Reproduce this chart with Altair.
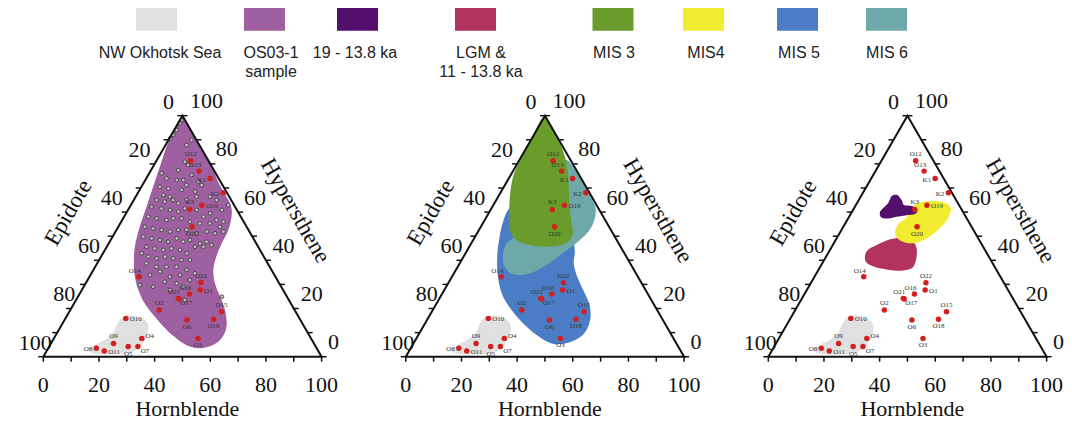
import math
import altair as alt
import pandas as pd

# ---------------- data ----------------
LEGEND_NAMES = ["NW Okhotsk Sea", "OS03-1 sample", "19 - 13.8 ka", "LGM & 11 - 13.8 ka",
                "MIS 3", "MIS4", "MIS 5", "MIS 6"]
LEGEND_LINES = [["NW Okhotsk Sea"], ["OS03-1", "sample"], ["19 - 13.8 ka"], ["LGM &", "11 - 13.8 ka"],
                ["MIS 3"], ["MIS4"], ["MIS 5"], ["MIS 6"]]
LEGEND_COLORS = ["#e0e0e0", "#9e60a0", "#540f6c", "#b2335f",
                 "#699c2a", "#f2ec30", "#4a7dc6", "#6ea8a8"]

SAMPLE_IDS = ["O12", "O13", "K1", "K2", "K3", "O19", "O20", "O14", "O22", "O1", "O16", "O21", "O17",
              "O2", "O15", "O18", "O6", "O10", "O4", "O9", "O3", "O8", "O11", "O5", "O7"]
SAMPLE_HORNBLENDE = [12.3, 17.5, 23.0, 30.7, 22.1, 25.6, 26.5, 17.7, 41.3, 42.5, 39.5, 36.4, 36.9,
                     32.0, 54.7, 53.4, 44.0, 21.7, 31.6, 22.5, 51.8, 17.3, 20.7, 28.4, 31.9]
SAMPLE_HYPERSTHENE = [81.3, 77.0, 73.9, 68.0, 61.1, 62.8, 53.9, 33.2, 30.7, 27.7, 26.0, 24.2, 23.9,
                      19.4, 18.7, 15.5, 15.2, 15.9, 7.6, 5.5, 7.6, 3.5, 2.4, 4.2, 4.2]
SAMPLE_LABEL_SIDE = ["N", "NW", "W", "W", "N", "E", "S", "NW", "N", "E", "NW", "NW", "SE",
                     "N", "N", "S", "S", "E", "NE", "N", "S", "W", "E", "S", "SE"]

# OS03-1 core samples (grey dots, left panel)
OS03_HORNBLENDE = [0.6, 0.7, 0.9, 0.7, 0.3, 8.3, 7.6, 10.4, 12.3, 9.8, 15.6, 19.4, 21.3, 4.5, 7.3,
                   11.3, 13.7, 15.9, 6.6, 10.0, 15.1, 20.3, 9.6, 12.3, 8.2, 11.5, 14.2, 16.7, 19.0,
                   21.9, 26.7, 29.8, 33.7, 35.0, 7.8, 11.7, 15.1, 18.4, 20.1, 24.7, 28.5, 30.2, 33.9,
                   36.7, 8.7, 12.0, 15.9, 18.0, 21.0, 24.7, 28.6, 32.2, 36.5, 9.5, 12.9, 16.2, 19.6,
                   22.2, 25.2, 29.5, 32.8, 36.1, 38.8, 11.0, 14.4, 17.7, 21.0, 23.4, 26.4, 28.5, 32.8,
                   34.8, 37.3, 14.3, 17.6, 21.0, 23.6, 27.0, 30.1, 31.7, 34.7, 13.9, 17.0, 20.3, 23.0,
                   26.3, 29.6, 32.6, 17.7, 22.0, 25.6, 29.2, 33.5, 37.2, 18.1, 21.4, 24.3, 28.9, 32.2,
                   36.8, 28.1, 32.7, 35.8, 25.0, 31.7, 39.1, 19.8, 51.7]
OS03_HYPERSTHENE = [98.2, 96.8, 94.0, 92.0, 90.6, 89.9, 87.8, 80.9, 79.5, 77.4, 75.4, 72.6, 71.2, 76.1,
                    74.0, 73.3, 73.3, 71.2, 70.5, 69.8, 69.2, 68.5, 67.1, 66.4, 65.0, 64.3, 65.0, 63.6,
                    65.0, 66.4, 66.4, 65.0, 60.9, 62.9, 62.2, 61.5, 60.9, 60.2, 61.5, 60.9, 58.1, 59.5,
                    56.7, 56.0, 58.1, 57.4, 56.7, 57.4, 57.4, 56.0, 55.3, 55.3, 53.9, 53.9, 53.2, 52.6,
                    51.9, 52.6, 52.6, 51.2, 51.9, 51.2, 51.9, 49.8, 49.1, 48.4, 47.7, 49.1, 47.7, 48.4,
                    47.0, 47.7, 46.3, 45.6, 44.9, 44.3, 44.9, 44.3, 42.9, 45.6, 45.6, 42.9, 41.5, 40.8,
                    41.5, 40.8, 40.1, 40.1, 38.7, 37.3, 37.3, 37.3, 36.0, 34.6, 33.2, 33.9, 35.3, 33.2,
                    33.9, 31.8, 31.1, 30.4, 29.0, 29.0, 27.7, 23.5, 29.7, 24.9]

# field outlines (Hornblende, Hypersthene)
NW_OKHOTSK_H = [20.4, 23.2, 27.3, 30.6, 32.3, 33.1, 32.9, 31.9, 29.8, 24.7, 19.9, 16.2, 15.1, 16.5, 18.9, 20.2, 19.7]
NW_OKHOTSK_HY = [16.6, 17.1, 16.0, 13.8, 10.8, 7.6, 4.8, 2.8, 1.4, 1.0, 1.0, 1.7, 3.3, 5.3, 7.2, 10.0, 13.8]

OS03_FIELD_H = [0.0, 5.0, 20.0, 28.0, 35.3, 38.3, 40.2, 40.6, 41.4, 43.1, 46.5, 51.1, 55.6, 59.0, 60.3,
                59.8, 57.2, 54.0, 49.1, 44.1, 38.8, 31.8, 25.4, 20.3, 16.3, 13.2, 10.1, 7.7, 6.0, 4.2,
                2.5, 0.7, 0.0]
OS03_FIELD_HY = [99.0, 95.0, 80.0, 71.0, 63.6, 58.8, 52.6, 47.0, 41.5, 36.0, 30.4, 24.9, 19.4, 13.8, 9.7,
                 6.2, 4.1, 3.5, 4.8, 7.6, 11.1, 16.6, 22.1, 27.7, 33.2, 38.7, 45.6, 53.9, 62.2, 70.5,
                 78.8, 87.1, 94.0]

MIS5_H = [6.3, 7.1, 9.3, 12.1, 16.5, 21.9, 28.3, 35.3, 42.5, 49.6, 54.4, 58.1, 59.4, 58.1, 54.8, 49.9,
          45.0, 41.0, 38.6, 34.0, 17.7, 8.6]
MIS5_HY = [60.9, 55.3, 48.4, 41.5, 33.2, 25.6, 19.4, 13.8, 9.0, 5.5, 5.5, 7.6, 11.1, 16.6, 22.1, 27.7,
           33.2, 38.7, 44.2, 49.8, 60.9, 62.2]

MIS6_H = [17.2, 22.9, 30.0, 33.9, 37.5, 39.4, 39.7, 38.2, 35.4, 32.2, 29.1, 25.2, 20.3, 16.0, 13.5, 12.7,
          14.0, 16.2, 16.5, 16.2]
MIS6_HY = [81.6, 76.8, 69.8, 65.7, 61.5, 56.7, 52.3, 48.1, 43.6, 39.0, 35.7, 34.0, 34.6, 38.4, 42.9, 47.0,
           49.1, 56.7, 70.5, 79.5]

MIS3_H = [0.0, 8.5, 12.4, 16.7, 21.0, 25.5, 28.5, 31.9, 34.5, 34.7, 32.8, 27.7, 21.4, 15.6, 11.1, 8.1,
          4.2, 1.2, 0.3, 0.0]
MIS3_HY = [99.5, 91.3, 87.1, 81.6, 74.7, 66.4, 60.9, 55.3, 51.2, 48.4, 46.3, 45.6, 46.3, 48.4, 52.6, 58.1,
           66.4, 74.7, 82.0, 90.0]

LGM_H = [15.8, 19.4, 23.8, 27.3, 30.8, 33.0, 33.2, 29.5, 24.4, 19.1, 15.4, 13.7, 13.7]
LGM_HY = [46.3, 48.7, 49.5, 48.4, 45.0, 40.1, 36.7, 35.7, 36.2, 37.4, 39.4, 42.2, 44.5]

MIS4_H = [21.5, 26.4, 31.5, 34.8, 35.8, 35.1, 33.0, 29.7, 25.8, 22.4, 19.8, 19.2, 20.8, 21.1]
MIS4_HY = [63.6, 64.6, 63.9, 61.6, 57.8, 53.7, 49.8, 47.3, 47.3, 48.7, 51.5, 55.1, 57.8, 61.6]

DEGLAC_H = [11.0, 12.8, 15.4, 17.3, 20.3, 23.0, 23.1, 20.4, 17.1, 13.9, 11.3, 10.1, 10.6, 11.2]
DEGLAC_HY = [66.7, 67.1, 65.0, 62.9, 62.5, 61.1, 59.2, 58.7, 58.1, 57.3, 58.1, 60.2, 62.0, 63.9]

TICK_VALUES = [0, 10, 20, 30, 40, 50, 60, 70, 80, 90, 100]
LABEL_VALUES = [0, 20, 40, 60, 80, 100]
AXIS_TITLES = ["Hornblende", "Epidote", "Hypersthene"]

# ---------------- layout ----------------
W, H = 1056, 411
S = 2.783                      # px per ternary unit
X0, Y0 = 35.3, 348.7           # bottom-left corner of first triangle (chart px)
PANEL_DX = 362.5               # px between panels
SQ = math.sqrt(3) / 2
XDOM = [(0 - X0) / S, (W - X0) / S]
YDOM = [(Y0 - H) / S, Y0 / S]
RIGHT_LABEL_DX = [12, 18, 17.5, 17, 16.5, 24]
LEFT_LABEL_DX = [-14, -15, -15, -10, -7, -8]
LEGEND_RECT_X = [156.5, 264.5, 357.5, 475.5, 613, 703.5, 797.5, 886.5]
LEGEND_TEXT_X = [160, 271, 355, 481, 614, 706, 799, 887]
LEGEND_LINE_Y = [53.3, 72.0]
SERIF = "Liberation Serif"
SANS = "Liberation Sans"


def pos(panel, h, hy, dxpx=0.0, dypx=0.0):
    return (panel * PANEL_DX / S + h + hy / 2 + dxpx / S, hy * SQ - dypx / S)


def page(xp, yp):
    xp, yp = xp - 8, yp - 8
    return ((xp - X0) / S, (Y0 - yp) / S)


XS = alt.Scale(domain=XDOM, nice=False, zero=False)
YS = alt.Scale(domain=YDOM, nice=False, zero=False)
X = alt.X("x:Q", scale=XS, axis=None)
Y = alt.Y("y:Q", scale=YS, axis=None)
CSCALE = alt.Scale(domain=LEGEND_NAMES, range=LEGEND_COLORS)

layers = []

# ---- filled fields ----
POLYGONS = [
    ("NW Okhotsk Sea", [0, 1, 2], NW_OKHOTSK_H, NW_OKHOTSK_HY),
    ("OS03-1 sample", [0], OS03_FIELD_H, OS03_FIELD_HY),
    ("MIS 5", [1], MIS5_H, MIS5_HY),
    ("MIS 6", [1], MIS6_H, MIS6_HY),
    ("MIS 3", [1], MIS3_H, MIS3_HY),
    ("LGM & 11 - 13.8 ka", [2], LGM_H, LGM_HY),
    ("MIS4", [2], MIS4_H, MIS4_HY),
    ("19 - 13.8 ka", [2], DEGLAC_H, DEGLAC_HY),
]
for name, panels, hs, hys in POLYGONS:
    rows = []
    for p in panels:
        for i, (h, hy) in enumerate(zip(hs, hys)):
            x, y = pos(p, h, hy)
            rows.append({"cat": name, "panel": p, "order": i, "x": x, "y": y})
    layers.append(
        alt.Chart(pd.DataFrame(rows)).mark_line(filled=True, interpolate="cardinal-closed", strokeWidth=0)
        .encode(x=X, y=Y, order="order:Q", detail="panel:N",
                color=alt.Color("cat:N", scale=CSCALE, legend=None))
    )

# ---- grey OS03-1 dots ----
rows = []
for h, hy in zip(OS03_HORNBLENDE, OS03_HYPERSTHENE):
    x, y = pos(0, h, hy)
    rows.append({"x": x, "y": y})
layers.append(
    alt.Chart(pd.DataFrame(rows)).mark_point(shape="circle", filled=True, size=14, fill="#c4c4c4",
                                             stroke="#333333", strokeWidth=0.8, opacity=1)
    .encode(x=X, y=Y)
)

# ---- triangle frames ----
rows = []
for p in range(3):
    for i, (h, hy) in enumerate([(0, 0), (100, 0), (0, 100), (0, 0)]):
        x, y = pos(p, h, hy)
        rows.append({"panel": p, "order": i, "x": x, "y": y})
layers.append(
    alt.Chart(pd.DataFrame(rows)).mark_line(color="#111111", strokeWidth=2, strokeJoin="miter")
    .encode(x=X, y=Y, order="order:Q", detail="panel:N")
)

# ---- ticks ----
rows = []
for p in range(3):
    for v in TICK_VALUES:
        for (h, hy), (dx, dy) in [((v, 0), (0, 5)), ((0, 100 - v), (-5, 0)), ((100 - v, v), (5, 0))]:
            x, y = pos(p, h, hy)
            x2, y2 = pos(p, h, hy, dx, dy)
            rows.append({"x": x, "y": y, "x2": x2, "y2": y2})
layers.append(
    alt.Chart(pd.DataFrame(rows)).mark_rule(color="#111111", strokeWidth=1.5)
    .encode(x=X, y=Y, x2="x2:Q", y2="y2:Q")
)

# ---- tick labels ----
rows = []
for p in range(3):
    for i, v in enumerate(LABEL_VALUES):
        x, y = pos(p, v, 0, 0, 27.8)
        rows.append({"x": x, "y": y, "t": str(v)})
        x, y = pos(p, 0, 100 - v, LEFT_LABEL_DX[i], -14)
        rows.append({"x": x, "y": y, "t": str(v)})
        x, y = pos(p, 100 - v, v, RIGHT_LABEL_DX[i], -14.5)
        rows.append({"x": x, "y": y, "t": str(v)})
layers.append(
    alt.Chart(pd.DataFrame(rows)).mark_text(font=SERIF, fontSize=22, color="#111111", baseline="middle",
                                            align="center")
    .encode(x=X, y=Y, text="t:N")
)

# ---- axis titles ----
for title, (dx, dy), ang, fs in zip(AXIS_TITLES, [(144, 51.8), (25, -144), (252, -146)], [0, 300, 60],
                                    [22, 23, 23]):
    rows = []
    for p in range(3):
        x, y = pos(p, 0, 0, dx, dy)
        rows.append({"x": x, "y": y, "t": title})
    layers.append(
        alt.Chart(pd.DataFrame(rows)).mark_text(font=SERIF, fontSize=fs, color="#111111", angle=ang,
                                                baseline="middle", align="center")
        .encode(x=X, y=Y, text="t:N")
    )

# ---- red sample points ----
rows = []
for p in range(3):
    for sid, h, hy, side in zip(SAMPLE_IDS, SAMPLE_HORNBLENDE, SAMPLE_HYPERSTHENE, SAMPLE_LABEL_SIDE):
        x, y = pos(p, h, hy)
        rows.append({"x": x, "y": y, "id": sid, "side": side})
samples = pd.DataFrame(rows)
layers.append(
    alt.Chart(samples).mark_circle(size=30, color="#d21f1f", opacity=1).encode(x=X, y=Y)
)
LABEL_STYLE = {"N": (0, -7, "center"), "S": (0, 7, "center"), "E": (4, 1, "left"), "W": (-4, 1, "right"),
               "NW": (-4, -6, "center"), "SE": (7, 4, "center"), "NE": (8, -2, "center")}
for side, (dx, dy, al) in LABEL_STYLE.items():
    layers.append(
        alt.Chart(samples[samples["side"] == side]).mark_text(font=SERIF, fontSize=7, color="#333333",
                                                             dx=dx, dy=dy, align=al, baseline="middle")
        .encode(x=X, y=Y, text="id:N")
    )

# ---- legend ----
rows, trows = [], []
for name, lines, rx, tx in zip(LEGEND_NAMES, LEGEND_LINES, LEGEND_RECT_X, LEGEND_TEXT_X):
    x1, y1 = page(rx - 20.5, 7.3)
    x2, y2 = page(rx + 20.5, 30.7)
    rows.append({"cat": name, "x": x1, "y": y1, "x2": x2, "y2": y2})
    for k, line in enumerate(lines):
        x, y = page(tx, LEGEND_LINE_Y[k])
        trows.append({"x": x, "y": y, "t": line})
layers.append(
    alt.Chart(pd.DataFrame(rows)).mark_rect()
    .encode(x=X, y=Y, x2="x2:Q", y2="y2:Q", color=alt.Color("cat:N", scale=CSCALE, legend=None))
)
layers.append(
    alt.Chart(pd.DataFrame(trows)).mark_text(font=SANS, fontSize=16, color="#222222", baseline="middle",
                                             align="center")
    .encode(x=X, y=Y, text="t:N")
)

chart = alt.layer(*layers).properties(
    width=W, height=H, padding=0, autosize=alt.AutoSizeParams(type="none")
).configure_view(stroke="transparent")

chart.save("out.html", embed_options={"renderer": "svg", "actions": False})
